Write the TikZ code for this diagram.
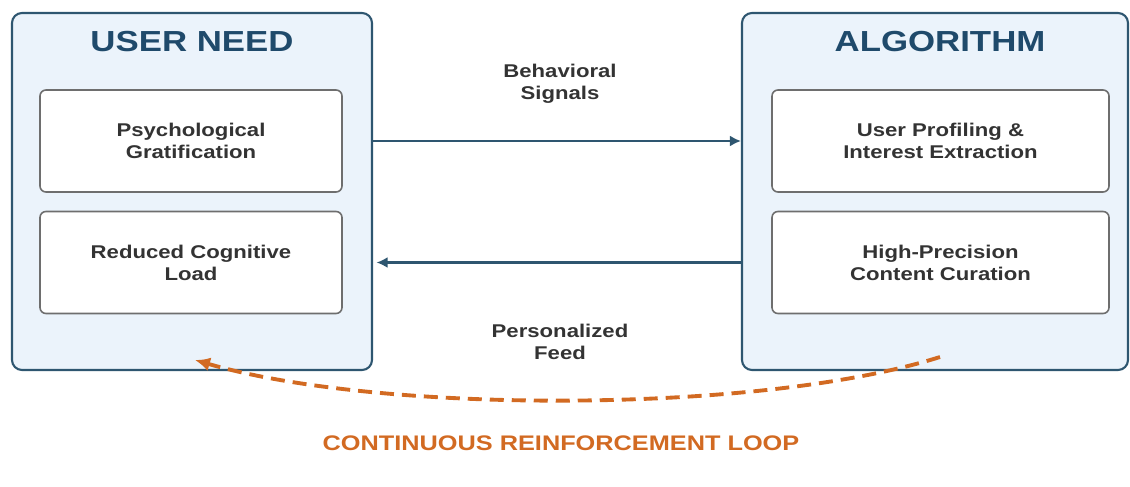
\documentclass[tikz,border=0pt]{standalone}
\usepackage{fontspec}
\setmainfont{Liberation Sans}[FakeStretch=1.2]
\usepackage{tikz}
\usetikzlibrary{arrows.meta,positioning,calc}
\definecolor{bleuB}{HTML}{2E5670}
\definecolor{bleuT}{HTML}{1F4A6B}
\definecolor{fondB}{HTML}{EBF3FB}
\definecolor{grisB}{HTML}{6E6E6E}
\definecolor{texteG}{HTML}{333333}
\definecolor{orangeL}{HTML}{D26A22}
\tikzset{
  panneau/.style={rectangle, rounded corners=2mm, draw=bleuB, line width=1.2pt, fill=fondB},
  titre/.style={font=\fontsize{16.5}{19}\selectfont\bfseries, text=bleuT},
  carte/.style={rectangle, rounded corners=1.2mm, draw=grisB, line width=0.9pt, fill=white,
                align=center, font=\fontsize{10.5}{12.5}\selectfont\bfseries, text=texteG},
  lbl/.style={align=center, font=\fontsize{10.5}{12.5}\selectfont\bfseries, text=texteG},
  arr/.style={-{Latex[length=2.2mm,width=2.2mm]}, line width=1.4pt, draw=bleuB},
}

\begin{document}
\begin{tikzpicture}[x=0.2mm, y=-0.2mm]
    \useasboundingbox (0,0) rectangle (1130,487);
    % les deux blocs
    \node[panneau, minimum width=72mm, minimum height=71.4mm] (need) at (192,191.5) {};
    \node[panneau, minimum width=77.2mm, minimum height=71.4mm] (algo) at (935,191.5) {};
    \node[titre] (tneed) at (192,42) {USER NEED};
    \node[titre] (talgo) at (940,42) {ALGORITHM};
    \node[carte, minimum width=60.4mm, minimum height=20.4mm] (psy) at (191,141)
      {Psychological\\Gratification};
    \node[carte, minimum width=60.4mm, minimum height=20.4mm] (red) at (191,262.5)
      {Reduced Cognitive\\Load};
    \node[carte, minimum width=67.4mm, minimum height=20.4mm] (prof) at (940.5,141)
      {User Profiling \&\\Interest Extraction};
    \node[carte, minimum width=67.4mm, minimum height=20.4mm] (cur) at (940.5,262.5)
      {High-Precision\\Content Curation};
    % flux
    \draw[arr] (need.east |- psy) -- (algo.west |- psy);
    \draw[arr, shorten >=2pt] (algo.west |- cur) -- (need.east |- cur);
    \node[lbl] (sig) at (560,84) {Behavioral\\Signals};
    \node[lbl] (feed) at (560,342) {Personalized\\Feed};
    % boucle
    \coordinate (lpS) at (940,357);
    \coordinate (lpE) at (195,360);
    \draw[orangeL, line width=2.2pt, dash pattern=on 2.8mm off 1.6mm,
          -{Latex[length=3mm,width=2.8mm]}]
      (lpS) .. controls (760,414) and (380,414) .. (lpE);
    \node[font=\fontsize{12}{14}\selectfont\bfseries, text=orangeL] (loop) at (561,443)
      {CONTINUOUS REINFORCEMENT LOOP};
\end{tikzpicture}
\end{document}
